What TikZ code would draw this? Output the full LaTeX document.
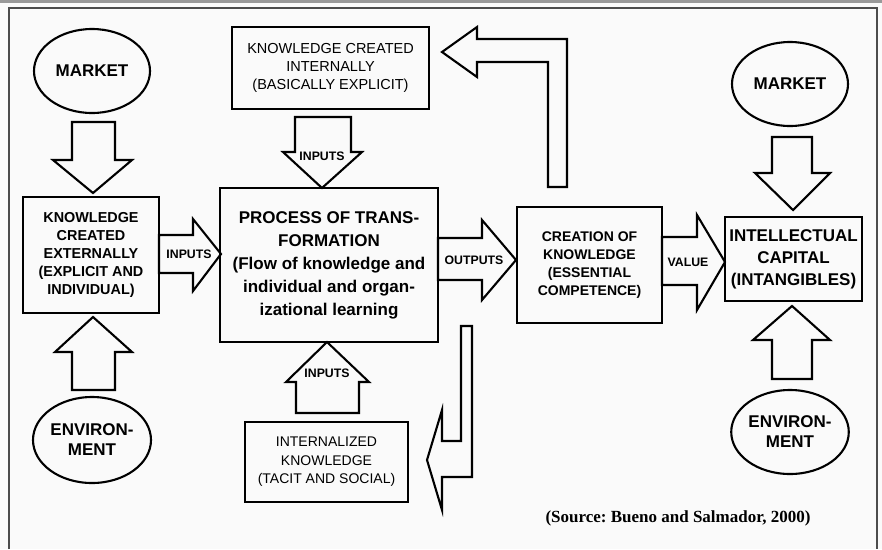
\documentclass[tikz,border=0pt]{standalone}
\usepackage{fontspec}
\setmainfont{Liberation Sans}
\newfontfamily\srcfont{Liberation Serif}
\usetikzlibrary{shapes.geometric}
\frenchspacing
\begin{document}
\begin{tikzpicture}[x=1pt,y=-1pt,
  bx/.style={draw, line width=2.3pt, inner sep=0pt, align=center},
  ell/.style={draw, ellipse, line width=2.1pt, inner sep=0pt, align=center,
    minimum width=116pt, minimum height=84pt, font=\fontsize{17}{20}\selectfont\bfseries},
  blk/.style={draw, line width=2.1pt, line join=miter},
  lbl/.style={font=\fontsize{12.3}{12}\selectfont\bfseries, inner sep=0pt},
  frm/.style={draw=black!70, line width=1.5pt}]
\useasboundingbox (0,0) rectangle (882,549);
\fill[black!2] (0,0) rectangle (882,549);
\fill[black!40] (0,0) rectangle (882,3);
\draw[frm] (9,549) -- (9,8) -- (877,8) -- (877,549);

% ellipses
\node[ell] (mkt1) at (92,71) {MARKET};
\node[ell, minimum width=118pt, minimum height=86pt] (env1) at (92,440) {ENVIRON-\\MENT};
\node[ell] (mkt2) at (790,84) {MARKET};
\node[ell] (env2) at (790,432) {ENVIRON-\\MENT};

% boxes
\node[bx, minimum width=136pt, minimum height=116pt, font=\fontsize{14.4}{18.2}\selectfont\bfseries]
  (ext) at (91,255) {KNOWLEDGE\\CREATED\\EXTERNALLY\\(EXPLICIT AND\\INDIVIDUAL)};
\node[bx, minimum width=197pt, minimum height=82pt, font=\fontsize{14.5}{18.2}\selectfont]
  (kint) at (330.5,68) {KNOWLEDGE CREATED\\INTERNALLY\\(BASICALLY EXPLICIT)};
\node[bx, minimum width=218pt, minimum height=154pt, font=\fontsize{17}{23}\selectfont\bfseries]
  (proc) at (329,265) {PROCESS OF TRANS-\\FORMATION\\(Flow of knowledge and\\individual and organ-\\izational learning};
\node[bx, minimum width=163pt, minimum height=80pt, font=\fontsize{14}{18.5}\selectfont]
  (intz) at (326.5,462) {INTERNALIZED\\KNOWLEDGE\\(TACIT AND SOCIAL)};
\node[bx, minimum width=145pt, minimum height=116pt, font=\fontsize{14}{17.8}\selectfont\bfseries]
  (crea) at (589.5,265) {CREATION OF\\KNOWLEDGE\\(ESSENTIAL\\COMPETENCE)};
\node[bx, minimum width=137pt, minimum height=84pt, font=\fontsize{17}{22}\selectfont\bfseries]
  (ic) at (793.5,259) {INTELLECTUAL\\CAPITAL\\(INTANGIBLES)};

% block arrows
\draw[blk] (72,122) -- (115,122) -- (115,160) -- (132,160) -- (93,193) -- (53,160) -- (72,160) -- cycle;
\draw[blk] (72,390) -- (115,390) -- (115,352) -- (132,352) -- (93,317) -- (55,352) -- (72,352) -- cycle;
\draw[blk] (295,117) -- (351,117) -- (351,152) -- (362,152) -- (322,188) -- (283,152) -- (295,152) -- cycle;
\draw[blk] (296,413) -- (359,413) -- (359,382) -- (369,382) -- (327,342) -- (286,382) -- (296,382) -- cycle;
\draw[blk] (772,137) -- (812,137) -- (812,173) -- (830,173) -- (793,210) -- (755,173) -- (772,173) -- cycle;
\draw[blk] (772,379) -- (812,379) -- (812,340) -- (830,340) -- (792,306) -- (753,340) -- (772,340) -- cycle;
\draw[blk] (159,235) -- (193,235) -- (193,219) -- (221,254) -- (193,291) -- (193,273) -- (159,273) -- cycle;
\draw[blk] (438,238) -- (482,238) -- (482,220) -- (516,260) -- (482,300) -- (482,280) -- (438,280) -- cycle;
\draw[blk] (662,237) -- (697,237) -- (697,215) -- (725,262) -- (697,310) -- (697,285) -- (662,285) -- cycle;
\draw[blk] (567,187) -- (567,39) -- (477,39) -- (477,27) -- (442,52) -- (477,77) -- (477,62) -- (548,62) -- (548,187) -- cycle;
\draw[blk] (472,326) -- (472,477) -- (442,477) -- (442,510) -- (427,460) -- (442,410) -- (442,441) -- (461,441) -- (461,326) -- cycle;

% arrow labels
\node[lbl] (in1) at (189,254) {INPUTS};
\node[lbl] (in2) at (322,156) {INPUTS};
\node[lbl] (in3) at (327,373) {INPUTS};
\node[lbl] (outp) at (474,260) {OUTPUTS};
\node[lbl] (val) at (688,262) {VALUE};

\node[font=\srcfont\fontsize{17}{20}\selectfont\bfseries, inner sep=0pt] (src) at (678,518) {(Source: Bueno and Salmador, 2000)};
\end{tikzpicture}
\end{document}
